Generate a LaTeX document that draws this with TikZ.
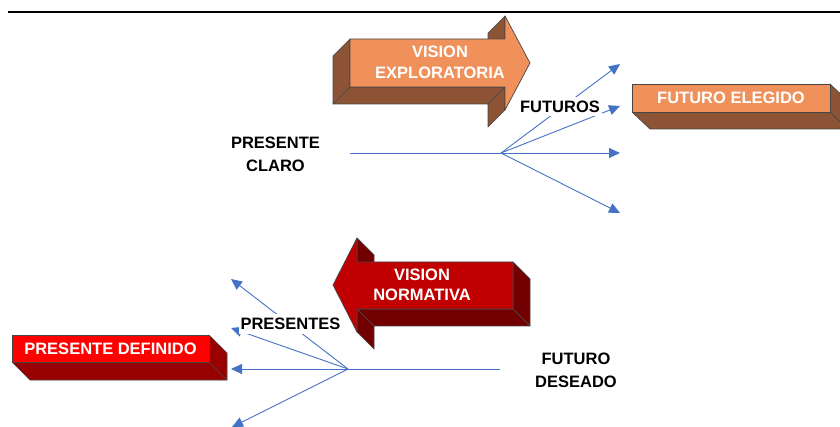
\documentclass[tikz,border=0pt]{standalone}
\usepackage{fontspec}
\setmainfont{Liberation Sans}
\usetikzlibrary{arrows.meta}
\definecolor{orfront}{RGB}{240,145,92}
\definecolor{orside}{RGB}{140,84,52}
\definecolor{nrfront}{RGB}{192,0,0}
\definecolor{nrside}{RGB}{115,0,0}
\definecolor{pdfront}{RGB}{255,0,0}
\definecolor{pdside}{RGB}{153,0,0}
\definecolor{edgegray}{RGB}{70,70,70}
\definecolor{blueline}{RGB}{68,114,196}
\begin{document}
\begin{tikzpicture}[x=1pt,y=-1pt,
  lbl/.style={font=\fontsize{16.5}{23}\selectfont\bfseries, align=center, inner sep=0pt, text=black},
  wlbl/.style={font=\fontsize{16.5}{20.5}\selectfont\bfseries, align=center, inner sep=0pt, text=white},
  conn/.style={draw=blueline, line width=0.9pt, -{Triangle[length=11pt,width=10pt]}},
  plainconn/.style={draw=blueline, line width=0.9pt},
  face/.style={draw=edgegray, line width=0.7pt, line join=round},
  cut/.style={fill=white, inner xsep=2pt, inner ysep=4pt}
]
\useasboundingbox (0,0) rectangle (840,427);
\clip (0,0) rectangle (840,427);

% top rule
\draw[line width=2pt] (8,12) -- (840,12);

% ---------- VISION EXPLORATORIA (3D arrow, depth to lower left) ----------
\filldraw[face, fill=orside] (350,39) -- (350,87) -- (333,104) -- (333,56) -- cycle;
\filldraw[face, fill=orside] (350,87) -- (505,87) -- (488,104) -- (333,104) -- cycle;
\filldraw[face, fill=orside] (505,16) -- (505,39) -- (488,56) -- (488,33) -- cycle;
\filldraw[face, fill=orside] (505,87) -- (505,110) -- (488,127) -- (488,104) -- cycle;
\filldraw[face, fill=orfront] (350,39) -- (505,39) -- (505,16) -- (530,63) -- (505,110) -- (505,87) -- (350,87) -- cycle;
\node[wlbl] (vexp) at (440,62.5) {VISION\\EXPLORATORIA};

% ---------- VISION NORMATIVA (3D arrow, depth to lower right) ----------
\filldraw[face, fill=nrside] (513,262) -- (530,279) -- (530,326) -- (513,309) -- cycle;
\filldraw[face, fill=nrside] (357,309) -- (513,309) -- (530,326) -- (374,326) -- cycle;
\filldraw[face, fill=nrside] (357,238) -- (374,255) -- (374,279) -- (357,262) -- cycle;
\filldraw[face, fill=nrside] (357,309) -- (374,326) -- (374,349) -- (357,332) -- cycle;
\filldraw[face, fill=nrfront] (513,262) -- (357,262) -- (357,238) -- (333,285) -- (357,332) -- (357,309) -- (513,309) -- cycle;
\node[wlbl] (vnor) at (422,285) {VISION\\NORMATIVA};

% ---------- FUTURO ELEGIDO box ----------
\filldraw[face, fill=orside] (632,112) -- (830,112) -- (848,129) -- (650,129) -- cycle;
\filldraw[face, fill=orside] (830,84) -- (848,101) -- (848,129) -- (830,112) -- cycle;
\node[face, fill=orfront, minimum width=198pt, minimum height=28pt, inner sep=0pt,
      font=\fontsize{16.5}{20}\selectfont\bfseries, text=white] (elegido) at (731,98) {FUTURO ELEGIDO};

% ---------- PRESENTE DEFINIDO box ----------
\filldraw[face, fill=pdside] (12,362) -- (209,362) -- (227,380) -- (30,380) -- cycle;
\filldraw[face, fill=pdside] (209,335) -- (227,353) -- (227,380) -- (209,362) -- cycle;
\node[face, fill=pdfront, minimum width=197pt, minimum height=27pt, inner sep=0pt,
      font=\fontsize{16.5}{20}\selectfont\bfseries, text=white] (definido) at (110.5,348.5) {PRESENTE DEFINIDO};

% ---------- top fan ----------
\coordinate (pcstart) at (350,153);
\coordinate (hubT) at (501,153);
\coordinate (f1) at (620,64);
\coordinate (f2) at (620,106);
\coordinate (f3) at (620,153);
\coordinate (f4) at (620,213);
\draw[plainconn] (pcstart) -- (hubT);
\draw[conn] (hubT) -- (f1);
\draw[conn] (hubT) -- (f2);
\draw[conn] (hubT) -- (f3);
\draw[conn] (hubT) -- (f4);
\node[lbl, cut] (futuros) at (560,106.5) {FUTUROS};
\node[lbl] (pclaro) at (275.5,154) {PRESENTE\\CLARO};

% ---------- bottom fan ----------
\coordinate (fdstart) at (500,369);
\coordinate (hubB) at (348,369);
\coordinate (p1) at (231,279);
\coordinate (p2) at (231,328);
\coordinate (p3) at (231,369);
\coordinate (p4) at (232,427);
\draw[plainconn] (fdstart) -- (hubB);
\draw[conn] (hubB) -- (p1);
\draw[conn] (hubB) -- (p2);
\draw[conn] (hubB) -- (p3);
\draw[conn] (hubB) -- (p4);
\node[lbl, cut] (presentes) at (290.5,324) {PRESENTES};
\node[lbl, align=center] (fdeseado) at (576,370) {FUTURO\\DESEADO};
\end{tikzpicture}
\end{document}
